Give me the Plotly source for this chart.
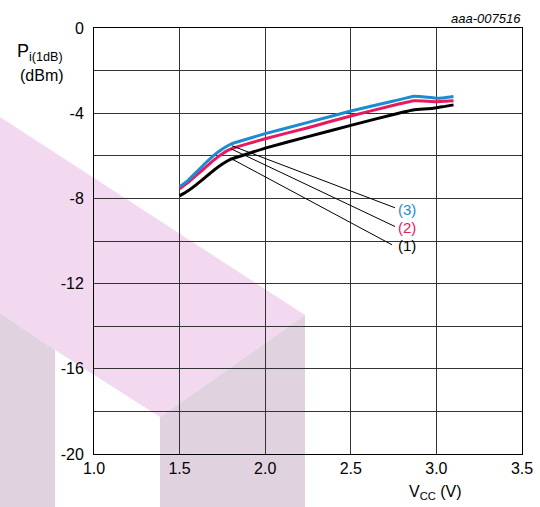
import plotly.graph_objects as go

# ---- data ----
vcc = [1.5, 1.55, 1.6, 1.65, 1.7, 1.75, 1.8, 1.9, 2.0, 2.25, 2.5, 2.75, 2.87, 2.95, 3.0, 3.05, 3.1]
p_1 = [-7.88, -7.64, -7.34, -7.01, -6.68, -6.39, -6.16, -5.9, -5.64, -5.1, -4.57, -4.06, -3.84, -3.79, -3.74, -3.68, -3.61]
p_2 = [-7.55, -7.25, -6.9, -6.55, -6.2, -5.9, -5.68, -5.43, -5.2, -4.68, -4.13, -3.63, -3.42, -3.44, -3.46, -3.44, -3.42]
p_3 = [-7.45, -7.15, -6.75, -6.35, -5.98, -5.68, -5.45, -5.2, -4.96, -4.43, -3.9, -3.43, -3.2, -3.25, -3.3, -3.27, -3.22]

series_names = ["(1)", "(2)", "(3)"]
series_values = [p_1, p_2, p_3]
series_colors = ["#000000", "#e8195c", "#1b8bd2"]

# leader lines: start on curve, end at label
leader_start_x = [1.794, 1.80, 1.805]
leader_start_y = [-6.10, -5.67, -5.53]
leader_end_x = [2.741, 2.758, 2.758]
leader_end_y = [-10.18, -9.32, -8.44]
label_x = [2.766, 2.766, 2.766]
label_y = [-10.22, -9.36, -8.5]

x_ticks = [1.0, 1.5, 2.0, 2.5, 3.0, 3.5]
y_ticks = [-20, -16, -12, -8, -4, 0]
y_ticktext = ["-20", "-16", "-12", "-8", "-4", "0"]

W, H = 540, 507
ML, MR, MT, MB = 94, 18, 28, 53
FONT = "Liberation Sans, Arial, sans-serif"

fig = go.Figure()

for name, vals, col in zip(series_names, series_values, series_colors):
    fig.add_trace(go.Scatter(x=vcc, y=vals, mode="lines", name=name,
                             line=dict(color=col, width=3, shape="spline", smoothing=0.4),
                             showlegend=False, hoverinfo="skip"))

for i in range(3):
    fig.add_trace(go.Scatter(x=[leader_start_x[i], leader_end_x[i]],
                             y=[leader_start_y[i], leader_end_y[i]],
                             mode="lines", line=dict(color="black", width=1),
                             showlegend=False, hoverinfo="skip"))
    fig.add_annotation(x=label_x[i], y=label_y[i], xref="x", yref="y",
                       text=series_names[i], showarrow=False, xanchor="left",
                       yanchor="middle", font=dict(family=FONT, size=15, color=series_colors[i]))

# ---- watermark (pixel polygons converted to paper coords) ----
pw = W - ML - MR
ph = H - MT - MB

def px2paper(pts):
    return [((x - ML) / pw, (H - MB - y) / ph) for x, y in pts]

def path_of(pts):
    p = px2paper(pts)
    s = "M %f,%f " % p[0] + " ".join("L %f,%f" % q for q in p[1:]) + " Z"
    return s

pink_poly = [(0, 117), (305, 315), (160, 417), (55, 350), (0, 313)]
gray_poly1 = [(0, 313), (55, 350), (55, 507), (0, 507)]
gray_poly2 = [(160, 417), (305, 315), (305, 507), (160, 507)]
for poly, col in [(pink_poly, "#f2d9f0"), (gray_poly1, "#e1d2e0"), (gray_poly2, "#e1d2e0")]:
    fig.add_shape(type="path", path=path_of(poly), xref="paper", yref="paper",
                  fillcolor=col, line=dict(width=0), layer="below")

# ---- titles ----
fig.add_annotation(x=(40 - ML) / pw, y=(H - MB - 52) / ph, xref="paper", yref="paper",
                   text="P<sub>i(1dB)</sub>", showarrow=False, xanchor="center", yanchor="middle",
                   font=dict(family=FONT, size=18, color="black"))
fig.add_annotation(x=(42 - ML) / pw, y=(H - MB - 75) / ph, xref="paper", yref="paper",
                   text="(dBm)", showarrow=False, xanchor="center", yanchor="middle",
                   font=dict(family=FONT, size=16, color="black"))
fig.add_annotation(x=(435 - ML) / pw, y=(H - MB - 492) / ph, xref="paper", yref="paper",
                   text="V<sub>CC</sub> (V)", showarrow=False, xanchor="center", yanchor="middle",
                   font=dict(family=FONT, size=16, color="black"))
fig.add_annotation(x=(523 - ML) / pw, y=(H - MB - 18) / ph, xref="paper", yref="paper",
                   text="<i>aaa-007516</i>", showarrow=False, xanchor="right", yanchor="middle",
                   font=dict(family=FONT, size=13, color="black"))

fig.update_xaxes(range=[1.0, 3.5], tickvals=x_ticks, tickformat=".1f",
                 showgrid=True, gridcolor="#333333", gridwidth=1,
                 showline=True, linecolor="black", linewidth=1, mirror=True,
                 zeroline=False, ticks="", tickfont=dict(family=FONT, size=16, color="black"))
fig.update_yaxes(range=[-20, 0], tickvals=y_ticks, ticktext=y_ticktext,
                 showgrid=True, gridcolor="#333333", gridwidth=1,
                 minor=dict(dtick=2, tick0=0, showgrid=True, gridcolor="#333333", gridwidth=1, ticks=""),
                 showline=True, linecolor="black", linewidth=1, mirror=True,
                 zeroline=False, ticks="", ticklabelstandoff=6,
                 tickfont=dict(family=FONT, size=16, color="black"))

fig.update_layout(width=W, height=H, margin=dict(l=ML, r=MR, t=MT, b=MB, autoexpand=False),
                  paper_bgcolor="white", plot_bgcolor="rgba(0,0,0,0)",
                  showlegend=False)

fig.write_html("out.html", config={"displayModeBar": False},
               post_script="document.body.style.margin='0';")
